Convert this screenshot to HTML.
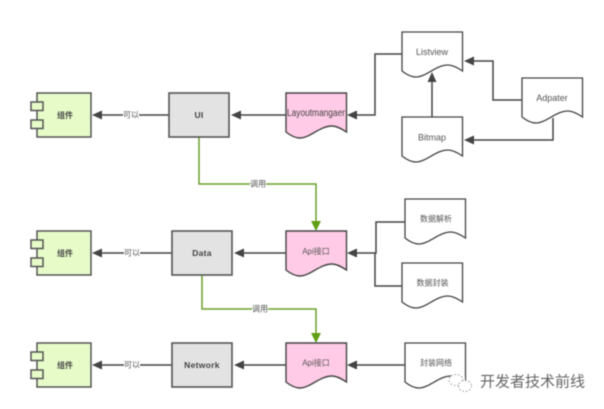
<!DOCTYPE html>
<html>
<head>
<meta charset="utf-8">
<style>
html,body{margin:0;padding:0;background:#fff;width:604px;height:409px;overflow:hidden}
svg{display:block;filter:blur(0.4px)}
text{font-family:"Liberation Sans","Noto Sans CJK SC",sans-serif;text-anchor:middle;dominant-baseline:central}
.l{fill:none;stroke:#444;stroke-width:1.5}
.g{fill:none;stroke:#6a9f2a;stroke-width:1.5}
.b{fill:#e3e3e3;stroke:#555;stroke-width:1.6}
.c{fill:#e6fbc8;stroke:#555;stroke-width:1.5}
.d{fill:#fff;stroke:#444;stroke-width:1.3}
.p{fill:#ffcbe6;stroke:#444;stroke-width:1.4}
.t{font-size:8px;fill:#555}
.s{font-size:8.500px;font-weight:bold;fill:#444;letter-spacing:.3px}
.z{font-size:8px;font-weight:bold;fill:#444}
.e{font-size:8px;fill:#555}
.n{font-size:9px;fill:#555}
</style>
</head>
<body>
<svg width="604" height="409" viewBox="0 0 604 409" xmlns="http://www.w3.org/2000/svg">
<defs>
<path id="doc" d="M0,0H60.500V39C56,36 51,33 46,33C34,33 24,45 14,45C9,45 5,43 0,39Z"/>
<g id="comp">
<rect class="c" x="37" y="0" width="54" height="44"/>
<rect class="c" x="31" y="9" width="12" height="8.500"/>
<rect class="c" x="31" y="27" width="12" height="8.500"/>
</g>
</defs>

<!-- grey connectors -->
<path class="l" d="M169,115H98M238,115H286"/>
<path class="l" d="M172,253H98M240,253H286"/>
<path class="l" d="M172,365H98M240,365H286"/>
<path class="l" d="M402,54H375V115H353"/>
<path class="l" d="M432,117V82"/>
<path class="l" d="M522,100H493V61H470"/>
<path class="l" d="M553,118V140H470"/>
<path class="l" d="M405,222H376V253H353"/>
<path class="l" d="M402,286H375V253"/>
<path class="l" d="M405,365H353"/>

<!-- green connectors -->
<path class="g" d="M199,137V184H316V224"/>
<path class="g" d="M202,275V309H316V336"/>

<!-- arrowheads -->
<g fill="#444">
<path d="M92,115L102,110.500V119.500Z"/>
<path d="M92,253L102,248.500V257.500Z"/>
<path d="M92,365L102,360.500V369.500Z"/>
<path d="M231,115L241,110.500V119.500Z"/>
<path d="M347,115L357,110.500V119.500Z"/>
<path d="M234,253L244,248.500V257.500Z"/>
<path d="M347,253L357,248.500V257.500Z"/>
<path d="M234,365L244,360.500V369.500Z"/>
<path d="M347,365L357,360.500V369.500Z"/>
<path d="M464,61L474,56.500V65.500Z"/>
<path d="M464,140L474,135.500V144.500Z"/>
<path d="M432,72L427.500,82H436.500Z"/>
</g>
<g fill="#5f9e12">
<path d="M316,231L311,221H321Z"/>
<path d="M316,343L311,333H321Z"/>
</g>

<!-- components -->
<use href="#comp" y="93"/>
<use href="#comp" y="231"/>
<use href="#comp" y="343"/>
<text class="z" x="65" y="115.500">组件</text>
<text class="z" x="65" y="253.500">组件</text>
<text class="z" x="65" y="365.500">组件</text>

<!-- grey boxes -->
<rect class="b" x="169" y="93" width="60" height="44"/>
<rect class="b" x="172" y="231" width="60" height="44"/>
<rect class="b" x="172" y="343" width="60" height="44"/>
<text class="s" x="199" y="115">UI</text>
<text class="s" x="202" y="253">Data</text>
<text class="s" x="202" y="365">Network</text>

<!-- pink documents -->
<use href="#doc" class="p" x="286" y="93"/>
<use href="#doc" class="p" x="286" y="231"/>
<use href="#doc" class="p" x="286" y="343"/>
<text class="n" x="316" y="113.500" style="font-size:10px;fill:#444" textLength="58" lengthAdjust="spacingAndGlyphs">Layoutmangaer</text>
<text class="e" x="316" y="251.500">Api接口</text>
<text class="e" x="316" y="363">Api接口</text>

<!-- white documents -->
<use href="#doc" class="d" x="402" y="32"/>
<use href="#doc" class="d" x="402" y="117"/>
<use href="#doc" class="d" x="522" y="78"/>
<use href="#doc" class="d" x="405" y="199"/>
<use href="#doc" class="d" x="402" y="263"/>
<use href="#doc" class="d" x="405" y="343"/>
<text class="n" x="432" y="52">Listview</text>
<text class="n" x="432" y="137.500">Bitmap</text>
<text class="n" x="552" y="98">Adpater</text>
<text class="e" x="436" y="219">数据解析</text>
<text class="e" x="432.500" y="283">数据封装</text>
<text class="e" x="436" y="363">封装网络</text>

<!-- connector labels -->
<rect x="123" y="109" width="16" height="12" fill="#fff"/>
<rect x="124" y="247" width="16" height="12" fill="#fff"/>
<rect x="124" y="359" width="16" height="12" fill="#fff"/>
<rect x="250" y="178" width="16" height="12" fill="#fff"/>
<rect x="252" y="303" width="16" height="12" fill="#fff"/>
<text class="t" x="131" y="115">可以</text>
<text class="t" x="132" y="253">可以</text>
<text class="t" x="132" y="365">可以</text>
<text class="t" x="258" y="184">调用</text>
<text class="t" x="260" y="309">调用</text>

<!-- watermark -->
<rect x="447" y="377" width="18" height="15" fill="#fff"/>
<rect x="467" y="374" width="120" height="18" fill="#fff"/>
<g fill="#fff" stroke="#999" stroke-width="1" stroke-dasharray="1.500 2">
<ellipse cx="456" cy="380" rx="7" ry="5.500"/>
<ellipse cx="465" cy="386" rx="6.500" ry="5.500"/>
</g>
<text x="532.500" y="382" style="font-size:15px;fill:#666">开发者技术前线</text>
</svg>
</body>
</html>
